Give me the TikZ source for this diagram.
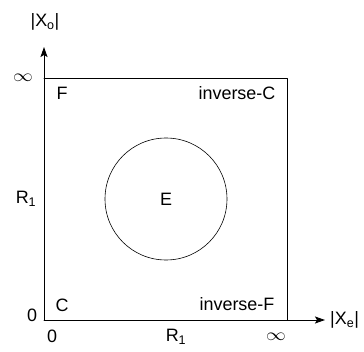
\documentclass[tikz,border=0pt]{standalone}
\usepackage{fontspec}
\setmainfont{Liberation Sans}
\usetikzlibrary{arrows.meta}

\begin{document}
\begin{tikzpicture}[line cap=round,line join=round,x=1bp,y=1bp,
		font=\fontsize{18}{21}\selectfont,
		axis/.style={line width=0.9pt,-{Stealth[length=10bp,width=7bp,inset=2bp]}},
		lbl/.style={inner sep=0pt},
		inf/.style={inner sep=0pt,xscale=1.15}]
	\useasboundingbox (-44,-32) rectangle (320,320);
	% Axes
	\coordinate (O) at (0,0);
	\coordinate (xend) at (281,0);
	\coordinate (yend) at (0,273);
	\draw [axis] (O) -- (xend);
	\draw [axis] (O) -- (yend);
	\node[lbl,right=5bp] (xlab) at (xend) {|X\textsubscript{e}|};
	\node[lbl] (ylab) at (1,298) {|X\textsubscript{o}|};
	%% Region
	\coordinate (TR) at (243,242);
	\draw [line width=0.9pt] (0,242) -- (TR) -- (243,0);
	\draw [line width=0.6pt] (122,121) circle (61);
	\node[lbl] (E) at (122,121) {E};
	% Ticks
	\node[lbl] (x0) at (8,-16) {0};
	\node[lbl] (xR) at (132,-17) {R\textsubscript{1}};
	\node[inf] (xinf) at (232,-17) {$\infty$};
	\node[lbl] (y0) at (-12,5) {0};
	\node[lbl] (yR) at (-18,121) {R\textsubscript{1}};
	\node[inf] (yinf) at (-21,242) {$\infty$};
	% Corners
	\node[lbl] (C) at (18,15) {C};
	\node[lbl] (F) at (18,227) {F};
	\node[lbl] (iC) at (193,227) {inverse-C};
	\node[lbl] (iF) at (193,16) {inverse-F};
\end{tikzpicture}
\end{document}
